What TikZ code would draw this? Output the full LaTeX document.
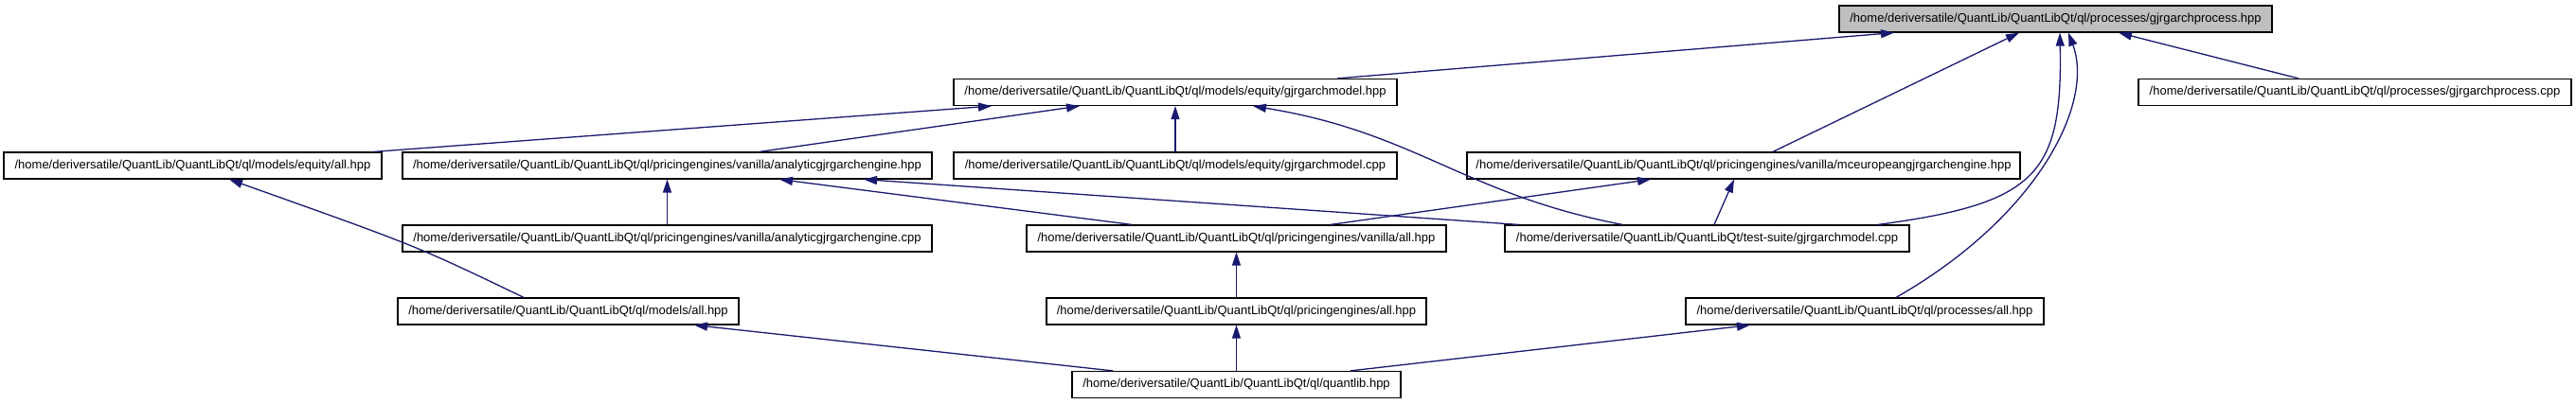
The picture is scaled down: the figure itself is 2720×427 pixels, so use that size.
\documentclass[tikz,border=0pt]{standalone}
\usepackage{fontspec}
\setmainfont{Liberation Sans}
\usetikzlibrary{arrows.meta}

\definecolor{edgeblue}{HTML}{191970}
\definecolor{rootgray}{HTML}{BFBFBF}

\begin{document}
\begin{tikzpicture}[
        x=1pt, y=-1pt,
        box/.style={rectangle, draw=black, line width=1.2pt, fill=white, inner sep=0pt, minimum height=28pt, font=\fontsize{13}{15}\selectfont},
        rootbox/.style={box, fill=rootgray},
        arrow/.style={-{Triangle[length=14pt, width=9pt]}, line width=1.3pt, color=edgeblue}
    ]
    \useasboundingbox (0,0) rectangle (2720,427);

    % Nodes
    \node[rootbox, minimum width=457pt] (proc) at (2170.5,20) {/home/deriversatile/QuantLib/QuantLibQt/ql/processes/gjrgarchprocess.hpp};

    \node[box, minimum width=468pt] (model) at (1241,97.5) {/home/deriversatile/QuantLib/QuantLibQt/ql/models/equity/gjrgarchmodel.hpp};
    \node[box, minimum width=457pt] (proccpp) at (2486.5,97.5) {/home/deriversatile/QuantLib/QuantLibQt/ql/processes/gjrgarchprocess.cpp};

    \node[box, minimum width=399pt] (eqall) at (203.5,175) {/home/deriversatile/QuantLib/QuantLibQt/ql/models/equity/all.hpp};
    \node[box, minimum width=559pt] (analytic) at (704.5,175) {/home/deriversatile/QuantLib/QuantLibQt/ql/pricingengines/vanilla/analyticgjrgarchengine.hpp};
    \node[box, minimum width=468pt] (modelcpp) at (1241,175) {/home/deriversatile/QuantLib/QuantLibQt/ql/models/equity/gjrgarchmodel.cpp};
    \node[box, minimum width=584pt] (mceu) at (1841,175) {/home/deriversatile/QuantLib/QuantLibQt/ql/pricingengines/vanilla/mceuropeangjrgarchengine.hpp};

    \node[box, minimum width=559pt] (analyticcpp) at (704.5,252) {/home/deriversatile/QuantLib/QuantLibQt/ql/pricingengines/vanilla/analyticgjrgarchengine.cpp};
    \node[box, minimum width=443pt] (vanall) at (1305.5,252) {/home/deriversatile/QuantLib/QuantLibQt/ql/pricingengines/vanilla/all.hpp};
    \node[box, minimum width=427pt] (testgjr) at (1802.5,252) {/home/deriversatile/QuantLib/QuantLibQt/test-suite/gjrgarchmodel.cpp};

    \node[box, minimum width=360pt] (modall) at (600,329) {/home/deriversatile/QuantLib/QuantLibQt/ql/models/all.hpp};
    \node[box, minimum width=401pt] (peall) at (1305.5,329) {/home/deriversatile/QuantLib/QuantLibQt/ql/pricingengines/all.hpp};
    \node[box, minimum width=378pt] (procall) at (1969,329) {/home/deriversatile/QuantLib/QuantLibQt/ql/processes/all.hpp};

    \node[box, minimum width=347pt] (qlib) at (1305.5,406.5) {/home/deriversatile/QuantLib/QuantLibQt/ql/quantlib.hpp};

    % Connections into gjrgarchprocess.hpp
    \draw[arrow] (1412,0 |- model.north) -- (2000,0 |- proc.south);
    \draw[arrow] (1872,0 |- mceu.north) -- (2132,0 |- proc.south);
    \draw[arrow] (1983,0 |- testgjr.north) .. controls (2150,215) and (2178,185) .. (2175,0 |- proc.south);
    \draw[arrow] (2002,0 |- procall.north) .. controls (2150,230) and (2212,110) .. (2184,0 |- proc.south);
    \draw[arrow] (2427,0 |- proccpp.north) -- (2237,0 |- proc.south);

    % Connections into gjrgarchmodel.hpp
    \draw[arrow] (395,0 |- eqall.north) -- (1047,0 |- model.south);
    \draw[arrow] (802,0 |- analytic.north) -- (1140,0 |- model.south);
    \draw[arrow] (modelcpp.north) -- (model.south);
    \draw[arrow] (1713,0 |- testgjr.north) .. controls (1545,205) and (1495,140) .. (1323,0 |- model.south);

    % Connections into the engines
    \draw[arrow] (analyticcpp.north) -- (analytic.south);
    \draw[arrow] (1195,0 |- vanall.north) -- (823,0 |- analytic.south);
    \draw[arrow] (1603,0 |- testgjr.north) -- (912,0 |- analytic.south);
    \draw[arrow] (1405,0 |- vanall.north) -- (1743,0 |- mceu.south);
    \draw[arrow] (1810,0 |- testgjr.north) -- (1831,0 |- mceu.south);

    % Connections from the all.hpp headers
    \draw[arrow] (553,0 |- modall.north) .. controls (440,260) .. (242,0 |- eqall.south);
    \draw[arrow] (peall.north) -- (vanall.south);
    \draw[arrow] (1175,0 |- qlib.north) -- (733,0 |- modall.south);
    \draw[arrow] (qlib.north) -- (peall.south);
    \draw[arrow] (1426,0 |- qlib.north) -- (1848,0 |- procall.south);

\end{tikzpicture}
\end{document}
